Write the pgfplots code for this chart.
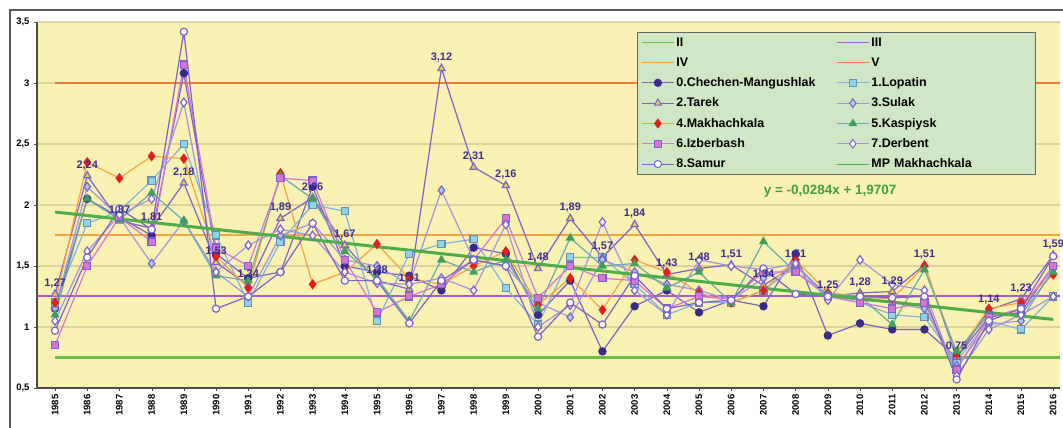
\documentclass[border=0pt]{standalone}
\usepackage{pgfplots}
\pgfplotsset{compat=1.18}
\usepackage{pgfplotstable}
\usepackage{fontspec}
\setmainfont{Liberation Sans}

\definecolor{plotbg}{HTML}{F9F2B2}
\definecolor{gridc}{HTML}{D6CB9A}
\definecolor{legbg}{HTML}{CFE7C4}
\definecolor{cII}{HTML}{6DBE45}
\definecolor{cIII}{HTML}{A95ACB}
\definecolor{cIV}{HTML}{F5A540}
\definecolor{cV}{HTML}{F2793A}
\definecolor{trend}{HTML}{4DAE48}
\definecolor{lab}{HTML}{3E2F8C}
\definecolor{navy}{HTML}{3A2A8A}
\definecolor{lpur}{HTML}{7F62C6}
\definecolor{lblue}{HTML}{7FB3E0}
\definecolor{cyanf}{HTML}{8FD3EA}
\definecolor{yelf}{HTML}{E8D040}
\definecolor{sulf}{HTML}{A8CCF2}
\definecolor{redf}{HTML}{E0201E}
\definecolor{grnf}{HTML}{3FA05E}
\definecolor{pinkf}{HTML}{D774D6}
\definecolor{lav}{HTML}{A294E2}

% year, then the nine stations 0..8
\pgfplotstableread{
year s0 s1 s2 s3 s4 s5 s6 s7 s8
1985 1.15 1.20 1.27 1.15 1.20 1.10 0.85 1.05 0.97
1986 2.05 1.85 2.24 2.15 2.35 2.05 1.50 1.62 1.57
1987 1.90 1.95 1.87 1.90 2.22 1.88 1.90 1.92 1.97
1988 1.75 2.20 1.81 1.52 2.40 2.10 1.70 2.05 1.80
1989 3.08 2.50 2.18 1.87 2.38 1.87 3.15 2.84 3.42
1990 1.60 1.75 1.53 1.45 1.58 1.42 1.65 1.45 1.15
1991 1.40 1.20 1.34 1.25 1.32 1.38 1.50 1.67 1.25
1992 1.45 1.70 1.89 1.75 2.26 2.24 2.22 1.80 1.45
1993 2.15 2.00 2.06 1.85 1.35 2.05 2.20 1.75 1.85
1994 1.50 1.95 1.67 1.55 1.45 1.62 1.55 1.45 1.38
1995 1.45 1.05 1.38 1.50 1.68 1.40 1.12 1.36 1.38
1996 1.42 1.60 1.31 1.35 1.40 1.05 1.25 1.35 1.03
1997 1.30 1.68 3.12 2.12 1.35 1.55 1.35 1.40 1.38
1998 1.65 1.72 2.31 1.55 1.50 1.45 1.55 1.30 1.55
1999 1.60 1.32 2.16 1.50 1.62 1.55 1.89 1.84 1.50
2000 1.10 1.02 1.48 1.20 1.18 1.15 1.24 1.00 0.92
2001 1.38 1.57 1.89 1.08 1.40 1.73 1.50 1.18 1.20
2002 0.80 1.57 1.57 1.55 1.14 1.50 1.40 1.86 1.02
2003 1.17 1.35 1.84 1.45 1.55 1.52 1.38 1.30 1.42
2004 1.30 1.10 1.43 1.35 1.45 1.32 1.15 1.10 1.15
2005 1.12 1.20 1.48 1.30 1.28 1.45 1.25 1.55 1.20
2006 1.22 1.20 1.51 1.22 1.20 1.20 1.23 1.50 1.22
2007 1.17 1.30 1.34 1.40 1.30 1.70 1.45 1.47 1.48
2008 1.60 1.50 1.51 1.50 1.55 1.45 1.45 1.52 1.27
2009 0.93 1.25 1.25 1.25 1.28 1.27 1.25 1.22 1.25
2010 1.03 1.20 1.28 1.22 1.25 1.25 1.20 1.55 1.25
2011 0.98 1.10 1.29 1.20 1.23 1.02 1.15 1.35 1.24
2012 0.98 1.08 1.51 1.15 1.50 1.47 1.20 1.30 1.25
2013 0.75 0.72 0.75 0.68 0.78 0.80 0.65 0.60 0.57
2014 1.08 1.05 1.14 1.02 1.15 1.10 1.08 0.98 1.05
2015 1.12 0.98 1.23 1.05 1.20 1.10 1.15 1.10 1.15
2016 1.50 1.25 1.59 1.48 1.43 1.45 1.50 1.25 1.58
}\stations

\begin{document}
\begin{tikzpicture}
\useasboundingbox (-37bp,-40bp) rectangle (1026bp,388bp);
\fill[white] (-37bp,-40bp) rectangle (1026bp,388bp);
\draw[black!65,line width=1.2bp] (-27bp,-40bp) -- (-27bp,378bp) -- (1026bp,378bp);
\begin{axis}[
  scale only axis,
  width=1023bp, height=366bp,
  xmin=1984.44, xmax=2016.21,
  ymin=0.5, ymax=3.5,
  axis background/.style={fill=plotbg},
  axis lines*=left,
  axis line style={black!70,line width=1.2bp},
  xtick={1985,...,2016},
  ytick={0.5,1,...,3.5},
  tick align=outside,
  major tick length=3bp,
  tick style={black!70},
  ymajorgrids,
  major grid style={gridc,line width=1.6bp,opacity=0.8},
  /pgf/number format/assume math mode=true,
  /pgf/number format/use comma,
  /pgf/number format/1000 sep={},
  xticklabel style={rotate=90,anchor=east,font=\bfseries\fontsize{9.5}{10}\selectfont},
  yticklabel style={font=\bfseries\fontsize{9.5}{10}\selectfont,xshift=-1bp},
  clip=false,
  legend columns=2,
  legend cell align=left,
  legend style={
    at={(600bp,356bp)}, anchor=north west,
    fill=legbg, draw=black!60, line width=0.8bp,
    font=\bfseries\fontsize{12.5}{14}\selectfont,
    row sep=5.8bp, inner xsep=4bp, inner ysep=3.5bp,
    /tikz/every even column/.append style={nodes={text width=158bp}},
  },
  every axis plot post/.append style={
    legend image code/.code={%
      \draw[mark repeat=2,mark phase=2] plot coordinates {(0bp,0bp) (16bp,0bp) (32bp,0bp)};}},
  legend image post style={line width=1bp},
  every axis plot/.append style={line width=1.2bp},
  mark size=3.6bp,
]
% reference levels II to V
\addplot[cII,line width=3bp,no marks] coordinates {(1985,0.75) (2016.2,0.75)};
\addlegendentry{II}
\addplot[cIII,line width=2bp,no marks] coordinates {(1984.44,1.25) (2016.2,1.25)};
\addlegendentry{III}
\addplot[cIV,line width=2bp,no marks] coordinates {(1985,1.75) (2016.2,1.75)};
\addlegendentry{IV}
\addplot[cV,line width=2.5bp,no marks] coordinates {(1985,3) (2016.2,3)};
\addlegendentry{V}
% stations
\addplot[lpur,mark=*,mark options={fill=navy,draw=navy}] table[x=year,y=s0]{\stations};
\addlegendentry{0.Chechen-Mangushlak}
\addplot[lblue,mark=square*,mark options={fill=cyanf,draw=lblue!80!black}] table[x=year,y=s1]{\stations};
\addlegendentry{1.Lopatin}
\addplot[lpur,mark=triangle*,mark size=4.1bp,mark options={fill=yelf,draw=lpur}] table[x=year,y=s2]{\stations};
\addlegendentry{2.Tarek}
\addplot[lav,mark=diamond*,mark size=4.3bp,mark options={fill=sulf,draw=lpur}] table[x=year,y=s3]{\stations};
\addlegendentry{3.Sulak}
\addplot[cIV,mark=diamond*,mark size=4.3bp,mark options={fill=redf,draw=redf}] table[x=year,y=s4]{\stations};
\addlegendentry{4.Makhachkala}
\addplot[lblue!60!grnf,mark=triangle*,mark size=4.1bp,mark options={fill=grnf,draw=grnf}] table[x=year,y=s5]{\stations};
\addlegendentry{5.Kaspiysk}
\addplot[pinkf,mark=square*,mark options={fill=pinkf,draw=lpur}] table[x=year,y=s6]{\stations};
\addlegendentry{6.Izberbash}
\addplot[lav,mark=diamond*,mark size=4.3bp,mark options={fill=white,draw=lpur}] table[x=year,y=s7]{\stations};
\addlegendentry{7.Derbent}
\addplot[lpur,mark=*,mark options={fill=white,draw=lpur}] table[x=year,y=s8]{\stations};
\addlegendentry{8.Samur}
% linear trend
\addplot[trend,line width=3bp,no marks] coordinates {(1985,1.9423) (2016,1.0619)};
\addlegendentry{MP Makhachkala}
% values of station 2 written above its marks
\addplot[draw=none,mark=none,forget plot,
  nodes near coords, point meta=explicit,
  every node near coord/.append style={
    anchor=south, yshift=2bp, text=lab,
    font=\bfseries\fontsize{11}{12}\selectfont,
    /pgf/number format/fixed, /pgf/number format/fixed zerofill,
    /pgf/number format/precision=2, /pgf/number format/use comma,
    /pgf/number format/assume math mode=true}]
  table[x=year,y=s2,meta=s2]{\stations};
\node[text=trend!90!black,font=\bfseries\fontsize{13.5}{15}\selectfont] at (axis cs:2009.07,2.11) {y = -0,0284x + 1,9707};
\end{axis}
\end{tikzpicture}
\end{document}
